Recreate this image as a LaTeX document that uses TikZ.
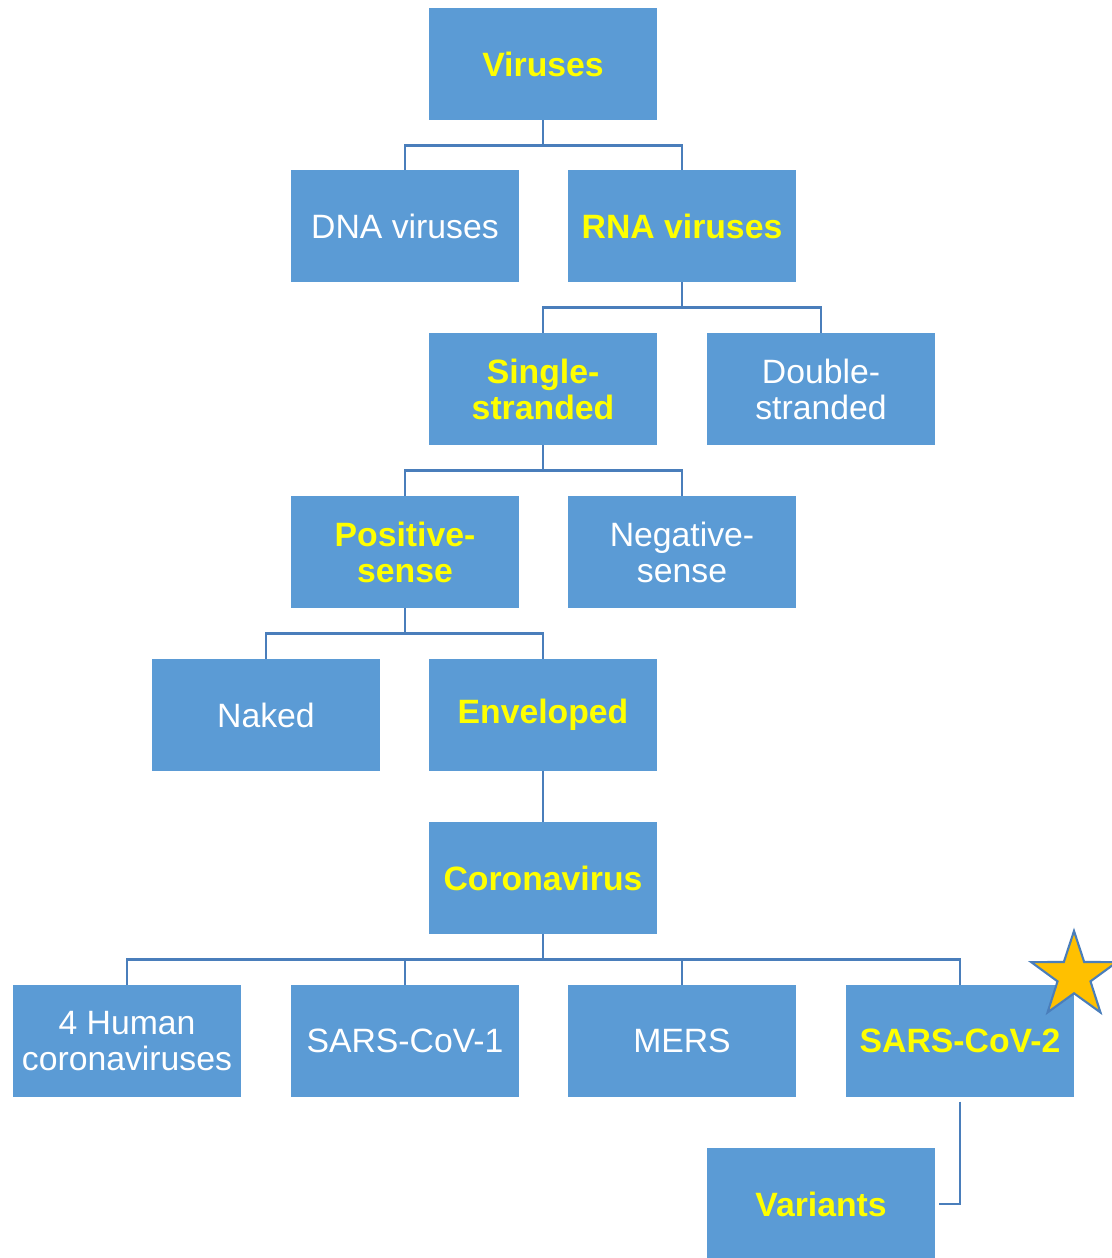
\documentclass[tikz,border=0pt]{standalone}
\usepackage{fontspec}
\setmainfont{Liberation Sans}
\usetikzlibrary{shapes.geometric}
\definecolor{boxblue}{HTML}{5B9BD5}
\definecolor{linkblue}{HTML}{4A7EBB}
\definecolor{starfill}{HTML}{FFC000}
\definecolor{hotyellow}{HTML}{FFFF00}
\tikzset{
    box/.style = {
        fill=boxblue,
        text=white,
        minimum width=5.675cm,
        minimum height=2.8cm,
        inner sep=0pt,
        align=center,
        font=\fontsize{24}{25.5}\selectfont
    },
    hot/.style = {
        box,
        text=hotyellow,
        font=\fontsize{24}{25.5}\selectfont\bfseries
    },
    link/.style = {
        draw=linkblue,
        line width=2pt
    }
}

\begin{document}
\begin{tikzpicture}[x=0.025cm, y=-0.025cm]
    \useasboundingbox (0,0) rectangle (1112,1258);

    % Draw all boxes
    \node[hot] (viruses) at (543,64) {Viruses};
    \node[box] (dna) at (405,226) {DNA viruses};
    \node[hot] (rna) at (682,226) {RNA viruses};
    \node[hot] (single) at (543,389) {Single-\\stranded};
    \node[box] (double) at (821,389) {Double-\\stranded};
    \node[hot] (positive) at (405,552) {Positive-\\sense};
    \node[box] (negative) at (682,552) {Negative-\\sense};
    \node[box] (naked) at (266,715) {Naked};
    \node[hot] (enveloped) at (543,715) {Enveloped\vphantom{V}};
    \node[hot] (corona) at (543,878) {Coronavirus};
    \node[box] (human) at (127,1041) {4 Human\\coronaviruses};
    \node[box] (sars1) at (405,1041) {SARS-CoV-1};
    \node[box] (mers) at (682,1041) {MERS};
    \node[hot] (sars2) at (960,1041) {SARS-CoV-2};
    \node[hot] (variants) at (821,1204) {Variants};

    % Draw connectors
    \draw[link] (viruses.south) -- ++(0,25) -| (dna.north);
    \draw[link] (viruses.south) -- ++(0,25) -| (rna.north);
    \draw[link] (rna.south) -- ++(0,25) -| (single.north);
    \draw[link] (rna.south) -- ++(0,25) -| (double.north);
    \draw[link] (single.south) -- ++(0,25) -| (positive.north);
    \draw[link] (single.south) -- ++(0,25) -| (negative.north);
    \draw[link] (positive.south) -- ++(0,25) -| (naked.north);
    \draw[link] (positive.south) -- ++(0,25) -| (enveloped.north);
    \draw[link] (enveloped.south) -- (corona.north);
    \foreach \kid in {human,sars1,mers,sars2}
        \draw[link] (corona.south) -- ++(0,25) -| (\kid.north);
    \draw[link] ([yshift=-3pt]sars2.south) |- ([xshift=3pt]variants.east);

    % Draw star
    \node[star, star points=5, star point ratio=2.6, minimum size=2.25cm,
          inner sep=0pt, fill=starfill, draw=linkblue, line width=1.5pt]
        (mark) at (1074,976) {};
\end{tikzpicture}
\end{document}
